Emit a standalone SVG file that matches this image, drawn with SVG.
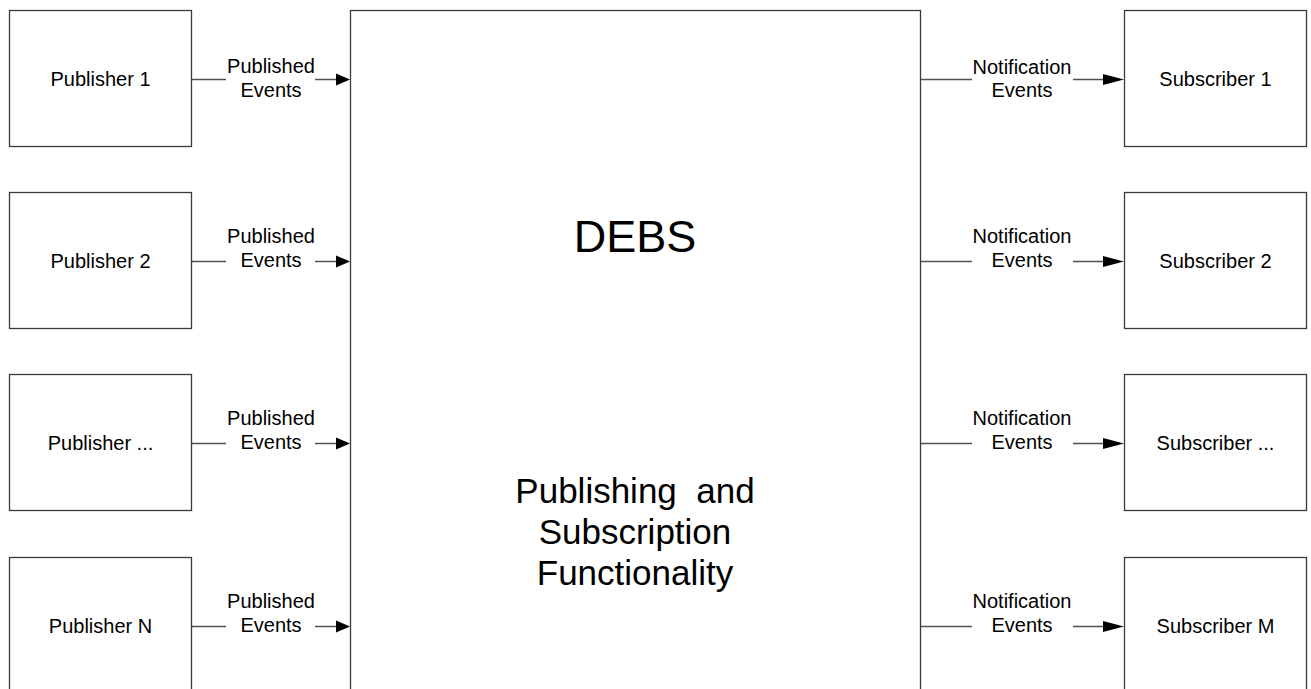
<svg xmlns="http://www.w3.org/2000/svg" width="1311" height="689" viewBox="0 0 1311 689">
<style>
.box{fill:#fff;stroke:#3a3a3a;stroke-width:1.3}
.t{font-family:"Liberation Sans",Arial,sans-serif;font-size:20px;fill:#000;text-anchor:middle}
.big{font-family:"Liberation Sans",Arial,sans-serif;font-size:35px;fill:#000;text-anchor:middle}
.ln{stroke:#505050;stroke-width:1.3;fill:none}
.ah{fill:#000}
</style>
<rect width="1311" height="689" fill="#fff"/>
<g id="debs">
<rect class="box" x="350.5" y="10.5" width="570" height="700"/>
<text class="big" x="635" y="252" style="font-size:45px">DEBS</text>
<text class="big" x="635" y="503" xml:space="preserve">Publishing  and</text>
<text class="big" x="635" y="544">Subscription</text>
<text class="big" x="635" y="585">Functionality</text>
</g>
<g id="pub1"><rect class="box" x="9.5" y="10.5" width="182" height="136"/><text class="t" x="100.5" y="86">Publisher 1</text></g>
<g id="pub2"><rect class="box" x="9.5" y="192.5" width="182" height="136"/><text class="t" x="100.5" y="268">Publisher 2</text></g>
<g id="pub3"><rect class="box" x="9.5" y="374.5" width="182" height="136"/><text class="t" x="100.5" y="450">Publisher ...</text></g>
<g id="pubN"><rect class="box" x="9.5" y="557.5" width="182" height="136"/><text class="t" x="100.5" y="633">Publisher N</text></g>
<g id="sub1"><rect class="box" x="1124.5" y="10.5" width="182" height="136"/><text class="t" x="1215.5" y="86">Subscriber 1</text></g>
<g id="sub2"><rect class="box" x="1124.5" y="192.5" width="182" height="136"/><text class="t" x="1215.5" y="268">Subscriber 2</text></g>
<g id="sub3"><rect class="box" x="1124.5" y="374.5" width="182" height="136"/><text class="t" x="1215.5" y="450">Subscriber ...</text></g>
<g id="subM"><rect class="box" x="1124.5" y="557.5" width="182" height="136"/><text class="t" x="1215.5" y="633">Subscriber M</text></g>
<g id="connectors">
<path class="ln" d="M192 79.5H226M315 79.5H337"/><polygon class="ah" points="336,73.5 350,79.5 336,85.5"/>
<text class="t" x="271" y="73">Published</text><text class="t" x="271" y="97">Events</text>
<path class="ln" d="M192 261.5H226M315 261.5H337"/><polygon class="ah" points="336,255.5 350,261.5 336,267.5"/>
<text class="t" x="271" y="243">Published</text><text class="t" x="271" y="267">Events</text>
<path class="ln" d="M192 443.5H226M315 443.5H337"/><polygon class="ah" points="336,437.5 350,443.5 336,449.5"/>
<text class="t" x="271" y="425">Published</text><text class="t" x="271" y="449">Events</text>
<path class="ln" d="M192 626.5H226M315 626.5H337"/><polygon class="ah" points="336,620.5 350,626.5 336,632.5"/>
<text class="t" x="271" y="608">Published</text><text class="t" x="271" y="632">Events</text>
<path class="ln" d="M921 79.5H972M1073 79.5H1104"/><polygon class="ah" points="1103,74 1124,79.5 1103,85"/>
<text class="t" x="1022" y="74">Notification</text><text class="t" x="1022" y="97">Events</text>
<path class="ln" d="M921 261.5H972M1073 261.5H1104"/><polygon class="ah" points="1103,256 1124,261.5 1103,267"/>
<text class="t" x="1022" y="243">Notification</text><text class="t" x="1022" y="267">Events</text>
<path class="ln" d="M921 443.5H972M1073 443.5H1104"/><polygon class="ah" points="1103,438 1124,443.5 1103,449"/>
<text class="t" x="1022" y="425">Notification</text><text class="t" x="1022" y="449">Events</text>
<path class="ln" d="M921 626.5H972M1073 626.5H1104"/><polygon class="ah" points="1103,621 1124,626.5 1103,632"/>
<text class="t" x="1022" y="608">Notification</text><text class="t" x="1022" y="632">Events</text>
</g>
</svg>
